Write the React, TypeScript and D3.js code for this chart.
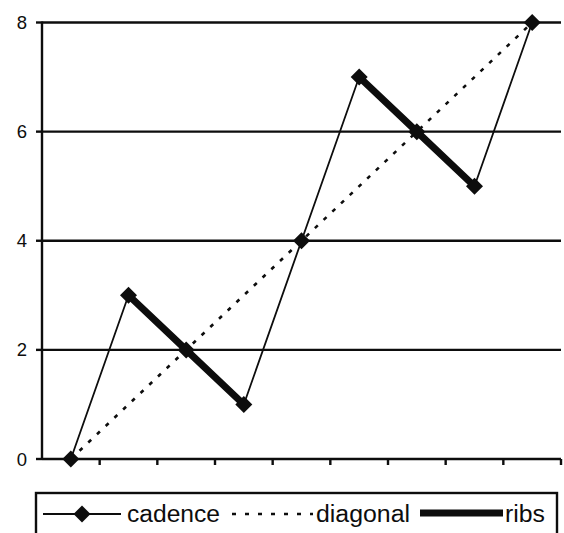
import React from "react";
import * as d3 from "d3";

const categories = ["0", "1", "2", "3", "4", "5", "6", "7", "8"];
const cadence = [0, 3, 2, 1, 4, 7, 6, 5, 8];
const diagonal = [0, 8];
const diagonalIdx = [0, 8];
const ribs: [number, number][][] = [
  [[1, 3], [2, 2], [3, 1]],
  [[5, 7], [6, 6], [7, 5]],
];
const yTicks = [0, 2, 4, 6, 8];

export default function App() {
  const W = 564, H = 533;
  const left = 42, right = 561, top = 22.5, bottom = 459;
  const x = d3.scaleBand<string>().domain(categories).range([left, right]);
  const cx = (i: number) => (x(categories[i]) as number) + x.bandwidth() / 2;
  const y = d3.scaleLinear().domain([0, 8]).range([bottom, top]);
  const line = d3.line<[number, number]>().x(d => cx(d[0])).y(d => y(d[1]));
  const cadPts = cadence.map((v, i) => [i, v] as [number, number]);
  const diagPts = diagonalIdx.map((i, k) => [i, diagonal[k]] as [number, number]);
  const diamond = (px: number, py: number, r = 8.5) =>
    `M${px},${py - r}L${px + r},${py}L${px},${py + r}L${px - r},${py}Z`;
  const tickXs = categories.map((c) => (x(c) as number) + x.bandwidth());
  const font = "Liberation Sans, Arial, sans-serif";
  const ink = "#0d0d0d";
  return (
    <svg width={W} height={H} style={{ position: "absolute", left: 0, top: 0 }}>
      <rect width={W} height={H} fill="#fff" />
      {yTicks.map(t => (
        <g key={t}>
          {t > 0 && <line x1={left} x2={right} y1={y(t)} y2={y(t)} stroke={ink} strokeWidth={2.4} />}
          <line x1={left - 6} x2={left} y1={y(t)} y2={y(t)} stroke={ink} strokeWidth={2.4} />
          <text x={27} y={y(t) + 6.5} textAnchor="end" fontFamily={font} fontSize={18.5} fill={ink}>{t}</text>
        </g>
      ))}
      <line x1={left} x2={left} y1={top - 1} y2={bottom} stroke={ink} strokeWidth={2.4} />
      <line x1={left} x2={right} y1={bottom} y2={bottom} stroke={ink} strokeWidth={2.4} />
      {tickXs.map((tx, i) => (
        <line key={i} x1={tx} x2={tx} y1={bottom} y2={bottom + 6} stroke={ink} strokeWidth={2.4} />
      ))}
      <path d={line(diagPts) || ""} fill="none" stroke={ink} strokeWidth={2.6} strokeDasharray="4,8" />
      {ribs.map((r, i) => (
        <path key={i} d={line(r) || ""} fill="none" stroke={ink} strokeWidth={7} />
      ))}
      <path d={line(cadPts) || ""} fill="none" stroke={ink} strokeWidth={1.8} />
      {cadPts.map((p, i) => (
        <path key={i} d={diamond(cx(p[0]), y(p[1]))} fill={ink} />
      ))}
      <g>
        <rect x={36} y={493} width={521} height={50} fill="none" stroke={ink} strokeWidth={2.4} />
        <line x1={43} x2={121} y1={514} y2={514} stroke={ink} strokeWidth={1.8} />
        <path d={diamond(82, 514, 8.5)} fill={ink} />
        <text x={127} y={522} fontFamily={font} fontSize={23.5} fill={ink} textLength={93} lengthAdjust="spacingAndGlyphs">cadence</text>
        <line x1={232} x2={313} y1={514} y2={514} stroke={ink} strokeWidth={2.6} strokeDasharray="4,9" />
        <text x={316} y={522} fontFamily={font} fontSize={23.5} fill={ink} textLength={94} lengthAdjust="spacingAndGlyphs">diagonal</text>
        <line x1={420} x2={503} y1={513} y2={513} stroke={ink} strokeWidth={7} />
        <text x={505} y={522} fontFamily={font} fontSize={23.5} fill={ink} textLength={40} lengthAdjust="spacingAndGlyphs">ribs</text>
      </g>
    </svg>
  );
}
